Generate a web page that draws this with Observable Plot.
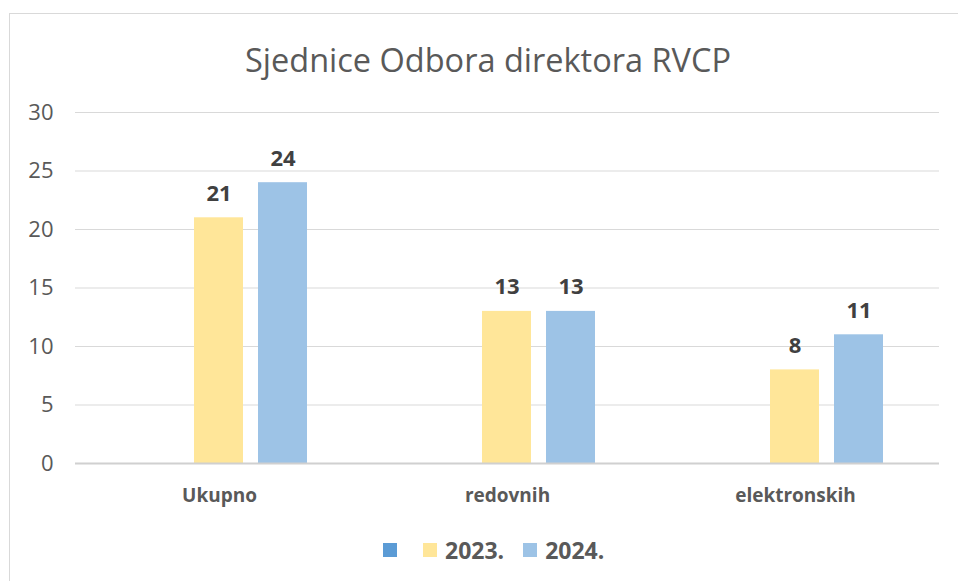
<!DOCTYPE html>
<html><head><meta charset="utf-8">
<script src="https://cdn.jsdelivr.net/npm/d3@7"></script>
<script src="https://cdn.jsdelivr.net/npm/@observablehq/plot@0.6"></script>
<style>
body{margin:0;background:#fff;font-family:"Open Sans",sans-serif;width:958px;height:581px;overflow:hidden;position:relative;}
#frame{position:absolute;left:9px;top:13px;width:1000px;height:1000px;border:1px solid #d9d9d9;box-sizing:border-box;}
#title{position:absolute;left:0;top:38px;width:976px;text-align:center;font-size:32.5px;color:#595959;line-height:44px;}
#chart{position:absolute;left:0;top:90px;}
#legend{position:absolute;top:535px;left:383px;height:30px;display:flex;align-items:center;font-weight:bold;font-size:23px;color:#595959;line-height:30px;}
.sw{width:14px;height:14px;display:inline-block;}
</style>
</head><body>
<div id="frame"></div>
<div id="title">Sjednice Odbora direktora RVCP</div>
<div id="chart"></div>
<div id="legend"></div>
<script>
const categories = ["Ukupno", "redovnih", "elektronskih"];
const series = ["", "2023.", "2024."];
const valuesBlank = [null, null, null];
const values2023 = [21, 13, 8];
const values2024 = [24, 13, 11];
const colors = ["#5B9BD5", "#FFE699", "#9DC3E6"];
const yTicks = [0, 5, 10, 15, 20, 25, 30];

const seriesValues = [valuesBlank, values2023, values2024];
const rows = [];
categories.forEach((c, i) => {
  series.forEach((s, j) => rows.push({category: c, series: s, value: seriesValues[j][i]}));
});
const present = rows.filter(d => d.value != null);

const chart = Plot.plot({
  width: 958, height: 430,
  marginLeft: 74, marginRight: 18, marginTop: 22, marginBottom: 57,
  style: {fontFamily: "'Open Sans', sans-serif", background: "transparent"},
  fx: {domain: categories, padding: 0, label: null},
  x: {domain: series, paddingInner: 0.23, paddingOuter: 0.835, axis: null},
  y: {domain: [0, 30], label: null},
  color: {domain: series, range: colors},
  marks: [
    Plot.gridY(yTicks, {stroke: "#d9d9d9", strokeOpacity: 1}),
    Plot.axisY(yTicks, {tickSize: 0, tickPadding: 22, fontSize: 22, fill: "#595959", label: null}),
    Plot.axisFx({anchor: "bottom", tickSize: 0, tickPadding: 25, fontSize: 19, fontWeight: "bold", fill: "#595959", label: null}),
    Plot.barY(present, {fx: "category", x: "series", y: "value", fill: "series"}),
    Plot.ruleY([0], {stroke: "#d0d0d0", strokeWidth: 2}),
    Plot.text(present, {fx: "category", x: "series", y: "value", text: d => String(d.value), dy: -17, lineAnchor: "bottom", fontSize: 22, fontWeight: "bold", fill: "#404040"})
  ]
});
document.getElementById("chart").appendChild(chart);

const legend = document.getElementById("legend");
const swGaps = [0, 26, 19];
series.forEach((s, j) => {
  const sw = document.createElement("span");
  sw.className = "sw";
  sw.style.background = colors[j];
  sw.style.marginLeft = swGaps[j] + "px";
  legend.appendChild(sw);
  if (s) {
    const t = document.createElement("span");
    t.textContent = s;
    t.style.marginLeft = "8px";
    legend.appendChild(t);
  }
});
</script>
</body></html>
